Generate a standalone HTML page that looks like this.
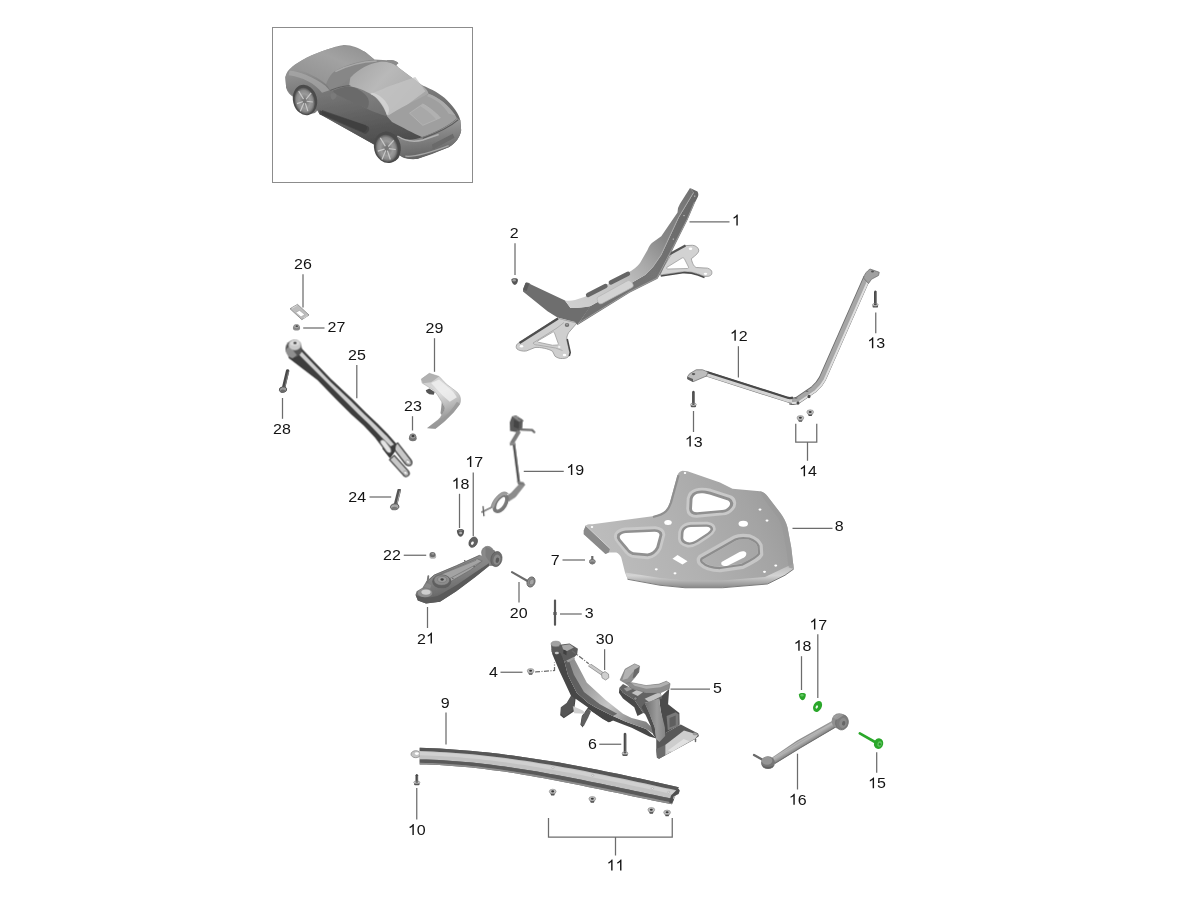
<!DOCTYPE html>
<html><head><meta charset="utf-8">
<style>
html,body{margin:0;padding:0;background:#fff;}
body{width:1200px;height:900px;overflow:hidden;font-family:"Liberation Sans",sans-serif;}
svg{display:block}
.lb2{font-family:"Liberation Sans",sans-serif;font-size:16px;fill:#111;text-anchor:start}
.lbl{font-family:"Liberation Sans",sans-serif;font-size:16px;fill:#111;text-anchor:middle}
.ld{stroke:#6c6c6c;stroke-width:1.25;fill:none}
</style></head>
<body>
<svg width="1200" height="900" viewBox="0 0 1200 900">
<defs>
<filter id="b1" x="-5%" y="-5%" width="110%" height="110%"><feGaussianBlur stdDeviation="0.45"/></filter>
<filter id="b2" x="-5%" y="-5%" width="110%" height="110%"><feGaussianBlur stdDeviation="0.8"/></filter>
<filter id="bcar" x="-5%" y="-5%" width="110%" height="110%"><feGaussianBlur stdDeviation="3.2"/></filter>
<filter id="b4" x="-5%" y="-5%" width="110%" height="110%"><feGaussianBlur stdDeviation="1.8"/></filter>
<filter id="b8" x="-5%" y="-5%" width="110%" height="110%"><feGaussianBlur stdDeviation="3.4"/></filter>
<filter id="b11" x="-5%" y="-5%" width="110%" height="110%"><feGaussianBlur stdDeviation="4.5"/></filter>
<filter id="b7" x="-5%" y="-5%" width="110%" height="110%"><feGaussianBlur stdDeviation="3"/></filter>
<filter id="b6" x="-5%" y="-5%" width="110%" height="110%"><feGaussianBlur stdDeviation="2.6"/></filter>
<filter id="b4s" x="-5%" y="-5%" width="110%" height="110%"><feGaussianBlur stdDeviation="2.4"/></filter>
</defs>
<rect width="1200" height="900" fill="#fff"/>
<!-- CARBOX -->
<rect x="272.5" y="27.5" width="200" height="155" fill="#fff" stroke="#8c8c8c" stroke-width="1"/>
<!-- CAR -->
<g id="car" transform="translate(272,27) scale(0.16667)" filter="url(#bcar)">
<defs>
<linearGradient id="cg1" x1="0" y1="0" x2="0.3" y2="1"><stop offset="0" stop-color="#9a9a9a"/><stop offset="0.55" stop-color="#7c7c7c"/><stop offset="1" stop-color="#5c5c5c"/></linearGradient>
<linearGradient id="cgroof" x1="0" y1="0" x2="1" y2="0.6"><stop offset="0" stop-color="#a3a3a3"/><stop offset="0.45" stop-color="#b9b9b9"/><stop offset="1" stop-color="#a6a6a6"/></linearGradient>
<linearGradient id="cghood" x1="0" y1="1" x2="1" y2="0"><stop offset="0" stop-color="#8e8e8e"/><stop offset="0.6" stop-color="#a2a2a2"/><stop offset="1" stop-color="#8f8f8f"/></linearGradient>
<linearGradient id="cgside" x1="0" y1="0" x2="0.25" y2="1"><stop offset="0" stop-color="#9a9a9a"/><stop offset="0.3" stop-color="#787878"/><stop offset="0.7" stop-color="#5c5c5c"/><stop offset="1" stop-color="#484848"/></linearGradient>
<linearGradient id="cgrear" x1="0" y1="0" x2="0.2" y2="1"><stop offset="0" stop-color="#a8a8a8"/><stop offset="0.4" stop-color="#8b8b8b"/><stop offset="1" stop-color="#646464"/></linearGradient>
<radialGradient id="cgwh" cx="0.5" cy="0.5" r="0.5"><stop offset="0" stop-color="#6d6d6d"/><stop offset="0.55" stop-color="#9a9a9a"/><stop offset="0.8" stop-color="#8a8a8a"/><stop offset="1" stop-color="#5a5a5a"/></radialGradient>
</defs>
<!-- body silhouette -->
<path fill="url(#cg1)" d="M430 108C470 105 520 125 560 150L615 195L690 200C720 195 750 205 758 218L745 228L760 245L900 350C960 375 1010 400 1050 440C1090 480 1120 520 1130 560L1135 620C1130 660 1100 700 1060 722L960 762L870 792C830 795 800 790 780 780L765 770C760 800 730 812 700 805C670 800 640 770 625 735L612 705L285 522L272 500C265 520 235 525 210 518C180 510 150 470 135 425C110 410 90 390 85 365L80 300C85 275 100 255 120 240C160 205 250 160 330 135C360 125 400 112 430 108Z"/>
<!-- side body -->
<path fill="url(#cgside)" d="M120 240C160 250 250 290 325 345L365 385L570 490C600 505 650 525 690 535C740 560 800 600 900 662C850 685 790 690 745 660L760 770L700 805L612 705L285 522L272 500L135 425L85 365L80 300Z"/>
<!-- hood -->
<path fill="url(#cghood)" d="M120 240C160 205 250 160 330 135C400 112 470 105 560 150L612 195C540 200 450 225 385 260C360 275 340 300 325 343C300 320 240 285 195 270C160 260 135 255 120 240Z"/>
<!-- front fender highlight -->
<path fill="#a9a9a9" opacity="0.7" d="M105 262C160 262 250 300 320 352L345 380L300 395C260 340 180 300 100 290Z"/>
<!-- windshield -->
<path fill="#878787" d="M385 262C450 228 540 203 628 200L645 212C580 225 520 255 470 305C440 335 400 360 348 378L328 345C340 305 360 278 385 262Z"/>
<path fill="none" stroke="#a9a9a9" stroke-width="9" d="M380 268C450 232 540 208 628 204"/>
<!-- roof -->
<path fill="url(#cgroof)" d="M470 305C520 250 585 218 645 210C685 205 725 215 752 238L900 350C922 368 936 385 940 400C900 430 820 470 740 520C720 532 700 537 690 530C682 480 640 420 590 400C560 385 520 362 462 355Z"/>
<path fill="#c4c4c4" opacity="0.75" d="M590 400C610 395 650 380 690 360L860 300L920 385L740 520C720 532 700 537 690 530C682 480 640 420 590 400Z"/>
<path fill="#d6d6d6" opacity="0.8" d="M590 402C625 415 668 470 690 530C700 520 705 500 700 480C685 440 640 400 600 395Z"/>
<!-- side window -->
<path fill="#6b6b6b" d="M362 382C400 366 440 357 470 357C520 367 560 397 578 432C585 452 580 476 570 490L380 402Z"/>
<path fill="none" stroke="#5a5a5a" stroke-width="5" d="M350 380C400 360 440 352 470 352"/>
<!-- mirror -->
<path fill="#7a7a7a" d="M352 400C365 392 385 395 388 410C385 428 370 440 360 435C352 425 350 410 352 400Z"/>
<path fill="#8c8c8c" d="M690 200C720 195 750 205 758 218L745 228C730 215 705 210 690 210Z"/>
<!-- rear deck -->
<path fill="#9f9f9f" d="M690 535C760 490 860 440 940 400C1000 420 1060 470 1100 530L1110 547C1050 600 960 640 900 660C850 640 780 600 720 570Z"/>
<path fill="#a8a8a8" stroke="#b9b9b9" stroke-width="4" d="M825 517L905 462C940 480 990 520 1010 545L905 590Z"/>
<path fill="#b3b3b3" opacity="0.8" d="M905 462C940 480 990 520 1010 545L985 555C960 525 925 495 890 475Z"/>
<!-- rear fender hump -->
<path fill="#b0b0b0" opacity="0.7" d="M940 400C1000 420 1060 470 1100 530L1060 520C1030 470 985 435 930 415Z"/>
<!-- rear bumper -->
<path fill="url(#cgrear)" d="M900 662C960 640 1060 600 1112 548L1130 560L1135 620C1130 660 1100 700 1060 722L870 792C820 795 790 785 770 770C760 740 750 700 745 660C780 682 850 682 900 662Z"/>
<path fill="none" stroke="#5a5a5a" stroke-width="7" d="M905 668C965 646 1062 606 1118 556"/>
<path fill="none" stroke="#b2b2b2" stroke-width="9" d="M752 655C800 685 860 690 905 678L1000 645"/>
<path fill="#6a6a6a" d="M960 705L1085 640L1095 665L965 735Z"/>
<path fill="none" stroke="#a6a6a6" stroke-width="8" d="M800 775C860 782 960 750 1060 712"/>
<!-- sill -->
<path fill="#474747" d="M285 500L575 596C592 608 582 632 560 642L285 524Z"/>
<path fill="#3d3d3d" d="M300 498L560 588C576 600 570 626 550 632L300 522Z" opacity="0.7"/>
<!-- wheels -->
<ellipse cx="198" cy="438" rx="72" ry="92" fill="#4c4c4c" transform="rotate(-14 198 438)"/>
<ellipse cx="196" cy="444" rx="60" ry="80" fill="url(#cgwh)" transform="rotate(-14 196 444)"/>
<ellipse cx="692" cy="722" rx="80" ry="95" fill="#4c4c4c" transform="rotate(-14 692 722)"/>
<ellipse cx="688" cy="728" rx="66" ry="82" fill="url(#cgwh)" transform="rotate(-14 688 728)"/>
<g stroke="#c9c9c9" stroke-width="7" fill="none">
<path d="M196 444L160 385M196 444L235 395M196 444L150 460M196 444L215 505M196 444L170 505M196 444L245 450"/>
<path d="M688 728L650 665M688 728L730 680M688 728L635 745M688 728L710 795M688 728L660 795M688 728L742 735"/>
</g>
<ellipse cx="196" cy="444" rx="12" ry="15" fill="#777"/>
<ellipse cx="688" cy="728" rx="13" ry="16" fill="#777"/>
</g>
<!-- PARTS -->
<g id="p1" transform="translate(490,170) scale(0.25)" filter="url(#b4)">
<defs>
<linearGradient id="p1top" gradientUnits="userSpaceOnUse" x1="320" y1="540" x2="800" y2="80"><stop offset="0" stop-color="#d0d0d0"/><stop offset="0.3" stop-color="#c4c4c4"/><stop offset="0.5" stop-color="#a8a8a8"/><stop offset="0.68" stop-color="#878787"/><stop offset="1" stop-color="#727272"/></linearGradient>
<linearGradient id="p1rim" gradientUnits="userSpaceOnUse" x1="350" y1="620" x2="830" y2="90"><stop offset="0" stop-color="#6e6e6e"/><stop offset="0.5" stop-color="#747474"/><stop offset="1" stop-color="#666"/></linearGradient>
</defs>
<!-- right foot -->
<path fill="#d2d2d2" stroke="#8d8d8d" stroke-width="3" d="M690 395L730 330L780 302.5L810 301C825 303 832 310 835 320C836 330 825 340 805 355C810 375 815 385 825 390L870 392.5C882 397 888 402 887.5 410C888 418 884 422 875 425L860 426L830 415C810 408 790 406 770 407.5L680 420Z"/>
<path fill="#fff" stroke="#9a9a9a" stroke-width="3" d="M708 389L768 352C772 350 776 352 778 356L794 388C795 392 793 394 789 394L712 396C706 396 704 392 708 389Z"/>
<path fill="none" stroke="#4b4b4b" stroke-width="7" d="M683 424L770 411C795 410 815 414 832 420L858 430"/>
<path fill="none" stroke="#555" stroke-width="9" d="M716 338L782 302"/>
<ellipse cx="802" cy="315" rx="7" ry="5" fill="#fff"/><ellipse cx="862" cy="415" rx="7" ry="4.5" fill="#fff"/>
<!-- left foot -->
<path fill="#cfcfcf" stroke="#8d8d8d" stroke-width="3" d="M270 592L110 695C104 700 103 710 108 716C115 722 130 726 145 724L180 710C200 708 235 715 250 725L260 745C270 752 280 755 290 754C305 754 312 750 317 742L319 730L307 680C306 668 310 658 315 650L348 612L290 598Z"/>
<path fill="none" stroke="#4f4f4f" stroke-width="9" d="M272 594L118 692"/>
<path fill="none" stroke="#474747" stroke-width="6" d="M309 676L321 730L317 744"/>
<path fill="none" stroke="#a2a2a2" stroke-width="3" d="M172 692L268 632L296 610M172 692C176 698 180 700 190 700L262 712L290 722"/>
<path fill="#fff" stroke="#9a9a9a" stroke-width="3" d="M192 683L250 649C254 647 257 648 258 652L273 694C274 698 272 700 268 700L250 701L194 689C190 688 189 685 192 683Z"/>
<ellipse cx="126" cy="705" rx="7" ry="5" fill="#fff"/><ellipse cx="298" cy="740" rx="7" ry="5" fill="#fff"/><ellipse cx="277" cy="708" rx="5" ry="4" fill="#f4f4f4"/>
<!-- beam: right/lower rim face -->
<path fill="url(#p1rim)" d="M815 90L800 72L830 86C834 92 834 100 832 106L820 130L790 200L735 310L685 410L670 435L560 490L350 620L400 545L560 455L620 420L650 390L685 340L755 190Z"/>
<!-- beam: left dark face -->
<path fill="#6e6e6e" d="M132 478L142 452C150 448 158 452 162 457L300 522L322 552L402 545L350 620L340 608L270 590L230 565L132 486Z"/>
<path fill="#5a5a5a" d="M132 478L142 452C148 449 154 452 156 458L146 484Z"/>
<!-- beam: top face -->
<path fill="url(#p1top)" d="M300 522C315 524 328 523 340 520L380 507L550 412C575 398 590 385 600 372L630 320C636 305 642 296 650 290L685 265L750 170L752 152L760 135L800 72L815 90L755 190L685 340L650 390L620 420L560 455L400 545C370 552 345 553 322 552Z"/>
<path fill="none" stroke="#a8a8a8" stroke-width="3" d="M352 614L560 486L668 432L733 306L788 198L818 128"/>
<path fill="none" stroke="#b0b0b0" stroke-width="3" d="M813 92L754 190L684 340L650 390"/>
<!-- slots -->
<path fill="none" stroke="#666" stroke-width="17" stroke-linecap="round" d="M392 500L462 464M483 450L552 415"/>
<!-- pad -->
<path fill="#d3d3d3" stroke="#b5b5b5" stroke-width="3" d="M432 508L548 444C556 440 564 444 568 451L572 458C574 464 572 468 566 471L448 534C440 537 434 534 431 527L429 518C428 513 429 510 432 508Z"/>
<!-- small bolt on left foot -->
<ellipse cx="308" cy="620" rx="9" ry="8" fill="#707070"/><ellipse cx="308" cy="618" rx="5" ry="4" fill="#9a9a9a"/>
<!-- holes on arm -->
<circle cx="819" cy="104" r="2.5" fill="#ddd"/><circle cx="776" cy="182" r="2.5" fill="#ddd"/><circle cx="733" cy="276" r="2.5" fill="#ddd"/>
</g>
<g id="p8" transform="translate(560,450) scale(0.25)" filter="url(#b4)">
<defs>
<linearGradient id="p8g" gradientUnits="userSpaceOnUse" x1="150" y1="500" x2="900" y2="150"><stop offset="0" stop-color="#bebebe"/><stop offset="0.45" stop-color="#b1b1b1"/><stop offset="0.8" stop-color="#a4a4a4"/><stop offset="1" stop-color="#989898"/></linearGradient>
<linearGradient id="p8lip" x1="0" y1="0" x2="0" y2="1"><stop offset="0" stop-color="#b8b8b8"/><stop offset="0.5" stop-color="#d4d4d4"/><stop offset="1" stop-color="#8a8a8a"/></linearGradient>
</defs>
<!-- base plate -->
<path fill="url(#p8g)" d="M95 322L103 302C108 297 118 296 130 297L370 265C395 260 410 255 420 245C430 235 436 222 440 210L470 100C474 90 482 84 490 83L510 85L640 130L690 155L800 165C815 168 824 176 830 185L880 250C895 270 905 290 910 310L925 390L935 475L900 500L830 535L650 550L500 550L400 540L270 515L260 490L245 430C240 420 234 414 225 410L195 410L182 416L95 337Z"/>
<!-- bottom lip -->
<path fill="url(#p8lip)" d="M262 490L400 512L500 522L650 522L820 508L900 470L933 455L935 475L900 500L830 535L650 550L500 550L400 540L270 515Z"/>
<path fill="none" stroke="#7d7d7d" stroke-width="4" d="M270 517L400 541L500 551L650 551L830 536L900 501L935 476"/>
<!-- left fold -->
<path fill="#8a8a8a" d="M95 322L103 302L200 395L195 410L182 416L95 337Z"/>
<path fill="none" stroke="#d0d0d0" stroke-width="4" d="M104 303L200 394"/>
<!-- left edge shading of upper arm -->
<path fill="none" stroke="#8f8f8f" stroke-width="9" d="M372 268C398 262 414 255 424 245C434 235 440 222 444 210L474 101"/>
<!-- right edge darker band -->
<path fill="#9a9a9a" opacity="0.8" d="M800 165C815 168 824 176 830 185L880 250C895 270 905 290 910 310L925 390L935 475L915 470L905 395L890 315C885 295 875 275 862 258L815 195Z"/>
<!-- embossed rims (dark then light) -->
<g fill="none" stroke-linejoin="round" filter="url(#b4s)">
<path stroke="#c9c9c9" stroke-width="30" d="M530 178C545 165 565 162 600 170L680 196C692 203 692 220 684 228C675 240 660 246 650 246L545 256C528 256 520 248 520 235L522 195C524 186 526 182 530 178Z"/>
<path stroke="#909090" stroke-width="15" d="M534 180C548 168 566 166 600 174L676 199C688 206 688 220 680 227C672 238 660 243 650 243L546 252C530 252 524 246 524 235L526 196C528 188 530 184 534 180Z"/>
<path stroke="#c9c9c9" stroke-width="26" d="M492 316C500 306 510 302 522 301L588 300C602 302 610 308 610 316C606 326 596 334 590 338L548 366C535 374 520 378 508 376C494 372 486 365 485 355L486 330C488 323 490 319 492 316Z"/>
<path stroke="#909090" stroke-width="13" d="M495 318C502 309 511 306 523 305L587 304C600 305 606 310 606 317C602 325 594 332 588 336L547 363C535 371 521 374 510 372C497 369 490 362 489 354L490 331C491 324 493 321 495 318Z"/>
<path stroke="#c9c9c9" stroke-width="30" d="M232 340C240 330 250 326 262 325L380 320C396 322 405 328 406 338L392 390C384 408 366 420 350 422L292 416C280 412 272 405 266 396L236 358C230 350 230 345 232 340Z"/>
<path stroke="#909090" stroke-width="15" d="M236 341C243 333 252 330 263 329L379 324C394 325 402 330 402 339L389 389C381 405 365 416 350 418L293 413C282 409 275 403 269 394L239 358C234 351 234 346 236 341Z"/>
<path stroke="#c6c6c6" stroke-width="22" d="M562 430L700 352C712 346 730 344 758 348C780 356 795 370 800 382L802 418C796 430 780 440 730 465L640 478C610 478 580 470 562 452C556 445 556 436 562 430Z"/>
<path stroke="#8d8d8d" stroke-width="9" d="M568 434L702 358C714 352 730 350 756 354C776 361 790 373 794 384L796 415C790 426 776 435 728 459L640 472C612 472 584 465 568 449C563 443 563 438 568 434Z"/>
</g>
<!-- cutouts -->
<g fill="#fff">
<path d="M538 182C548 172 565 170 598 178L672 202C682 208 682 218 676 226C668 236 658 240 648 240L548 249C534 249 528 244 528 234L530 198C531 190 534 186 538 182Z"/>
<path d="M498 320C504 312 512 309 524 308L586 307C598 308 603 312 602 318C598 325 592 330 586 334L546 360C534 368 522 371 512 369C500 366 494 360 493 352L494 332C495 326 496 323 498 320Z"/>
<path d="M240 343C246 336 254 333 264 332L378 327C392 328 398 333 398 340L385 388C378 402 364 412 350 414L294 409C284 406 277 400 272 392L243 358C239 352 238 347 240 343Z"/>
<path d="M450 435L470 420L510 445L490 458Z"/>
<path d="M648 447L718 408C730 402 742 404 745 412C746 420 742 426 736 430L672 462C660 466 650 464 646 458C644 453 645 449 648 447Z"/>
<ellipse cx="432" cy="290" rx="15" ry="10"/><ellipse cx="733" cy="295" rx="19" ry="12"/>
<ellipse cx="500" cy="92" rx="5" ry="4"/><ellipse cx="128" cy="308" rx="5" ry="4"/><ellipse cx="800" cy="238" rx="6" ry="4.5"/><ellipse cx="828" cy="282" rx="6" ry="4.5"/>
<ellipse cx="385" cy="477" rx="6" ry="4.5"/><ellipse cx="460" cy="493" rx="6" ry="4.5"/><ellipse cx="818" cy="487" rx="6" ry="4.5"/><ellipse cx="863" cy="462" rx="6" ry="4.5"/>
</g>
</g>
<g id="p12" transform="translate(650,255) scale(0.25)" filter="url(#b4)">
<!-- upper-right leg -->
<path fill="none" stroke="#6c6c6c" stroke-width="30" stroke-linejoin="round" d="M560 583C572 586 582 585 592 580L655 537C672 522 682 510 690 494L868 90"/>
<path fill="none" stroke="#a6a6a6" stroke-width="23" stroke-linejoin="round" d="M560 583C572 586 582 585 592 580L655 537C672 522 682 510 690 494L868 90"/>
<path fill="none" stroke="#dedede" stroke-width="8" stroke-linejoin="round" d="M568 592C578 593 588 592 598 587L662 544C679 529 690 516 698 500L876 96"/>
<!-- top tab -->
<path fill="#a0a0a0" stroke="#6e6e6e" stroke-width="3" d="M854 92C858 76 866 66 880 56L917 69L914 82L886 97L874 114Z"/>
<ellipse cx="890" cy="66" rx="6" ry="4" fill="#555"/>
<!-- lower-left leg -->
<path fill="none" stroke="#6e6e6e" stroke-width="22" stroke-linejoin="round" d="M222 474L548 578C556 581 562 582 568 582"/>
<path fill="none" stroke="#d4d4d4" stroke-width="15" stroke-linejoin="round" d="M222 476L548 580C556 583 562 584 568 584"/>
<path fill="none" stroke="#4a4a4a" stroke-width="9" stroke-linejoin="round" d="M224 467L548 570C556 573 564 573 572 570"/>
<!-- left end block -->
<path fill="#bdbdbd" stroke="#6e6e6e" stroke-width="3" d="M150 487L158 475L185 459L210 459L232 468L226 484L172 507L150 496Z"/>
<path fill="#5c5c5c" d="M150 487L172 496L172 507L150 496Z"/>
<ellipse cx="174" cy="476" rx="7" ry="4.5" fill="#5a5a5a"/>
<!-- holes near bend -->
<ellipse cx="584" cy="572" rx="6" ry="3" fill="#6a6a6a"/><ellipse cx="628" cy="545" rx="6" ry="3" fill="#6a6a6a"/>
<!-- studs -->
<ellipse cx="592" cy="592" rx="6" ry="7" fill="#484848"/><ellipse cx="636" cy="566" rx="6" ry="7" fill="#484848"/>
</g>
<!-- bolts 13 -->
<g id="b13"><g filter="url(#b1)"><path fill="#484848" d="M874.0 304.6V291.59999999999997Q875.3 289.4 876.5999999999999 291.59999999999997V304.6Z"/><path stroke="#7c7c7c" stroke-width="0.7" d="M876.0999999999999 292.4V303.6"/><rect x="872.5999999999999" y="304.6" width="5.4" height="3" rx="1.2" fill="#555"/><ellipse cx="875.3" cy="304.8" rx="3.0" ry="1.4" fill="#cfcfcf" stroke="#777" stroke-width="0.5"/><ellipse cx="875.3" cy="304.40000000000003" rx="1.5" ry="0.8" fill="#4a4a4a"/></g><g filter="url(#b1)"><path fill="#484848" d="M692.1 404.3V391.8Q693.4 389.6 694.6999999999999 391.8V404.3Z"/><path stroke="#7c7c7c" stroke-width="0.7" d="M694.1999999999999 392.6V403.3"/><rect x="690.6999999999999" y="404.3" width="5.4" height="3" rx="1.2" fill="#555"/><ellipse cx="693.4" cy="404.5" rx="3.0" ry="1.4" fill="#cfcfcf" stroke="#777" stroke-width="0.5"/><ellipse cx="693.4" cy="404.1" rx="1.5" ry="0.8" fill="#4a4a4a"/></g></g>
<!-- nuts 14 -->
<g id="n14" filter="url(#b1)"><path fill="#4e4e4e" d="M797.50 418.40L803.30 418.40L801.90 421.80L798.90 421.80Z"/><ellipse cx="800.4" cy="417.90" rx="3.4" ry="2.3" fill="#c0c0c0" stroke="#8a8a8a" stroke-width="0.6"/><ellipse cx="800.4" cy="417.80" rx="1.5" ry="1.05" fill="#383838"/><path fill="#4e4e4e" d="M807.30 412.60L813.10 412.60L811.70 416.00L808.70 416.00Z"/><ellipse cx="810.2" cy="412.10" rx="3.4" ry="2.3" fill="#c0c0c0" stroke="#8a8a8a" stroke-width="0.6"/><ellipse cx="810.2" cy="412.00" rx="1.5" ry="1.05" fill="#383838"/></g>
<g id="p25" transform="translate(270,290) scale(0.125)" filter="url(#b8)">
<!-- fork tabs -->
<path fill="#3a3a3a" d="M940 1180L1010 1235L990 1300L960 1345L900 1270Z"/>
<path fill="#c8c8c8" stroke="#3f3f3f" stroke-width="10" stroke-linejoin="round" d="M1021 1223L1126 1358C1148 1386 1127 1412 1100 1403C1091 1400 1086 1396 1084 1392L979 1257Z"/>
<path fill="#c8c8c8" stroke="#3f3f3f" stroke-width="10" stroke-linejoin="round" d="M994 1323L1104 1445C1127 1471 1106 1497 1080 1491C1072 1488 1068 1483 1066 1479L956 1357Z"/>
<ellipse cx="1104" cy="1376" rx="18" ry="12" fill="#fff" stroke="#555" stroke-width="4" transform="rotate(20 1104 1376)"/>
<ellipse cx="1084" cy="1463" rx="18" ry="12" fill="#fff" stroke="#555" stroke-width="4" transform="rotate(20 1084 1463)"/>
<!-- arm dark body -->
<path fill="#3c3c3c" d="M140 500L250 465L495 720L665 880L770 985L860 1070L940 1150L1010 1230L1000 1290L960 1340L900 1260L840 1180L750 1085L650 995L535 880L380 720L150 545Z"/>
<!-- light top strip -->
<path fill="#cfcfcf" d="M215 500L250 468L495 722L665 882L770 987L860 1072L940 1152L1005 1228L965 1250L885 1170L800 1080L705 990L595 880L435 720Z"/>
<path fill="none" stroke="#3a3a3a" stroke-width="17" d="M244 472L489 726L659 886L764 991L854 1076L934 1156L1002 1234"/>
<!-- window -->
<path fill="#e4e4e4" stroke="#6a6a6a" stroke-width="5" d="M885 1205C895 1195 910 1198 925 1212L962 1262C972 1280 972 1295 962 1302C950 1306 938 1298 928 1285L892 1235C882 1220 880 1212 885 1205Z"/>
<!-- top bushing -->
<ellipse cx="190" cy="470" rx="66" ry="70" fill="#555"/>
<path fill="#8f8f8f" d="M130 470C125 510 150 545 185 545L215 520L160 450Z"/>
<ellipse cx="198" cy="440" rx="50" ry="42" fill="#c9c9c9" stroke="#9a9a9a" stroke-width="5"/>
<ellipse cx="198" cy="424" rx="38" ry="22" fill="#dadada"/>
<ellipse cx="200" cy="424" rx="13" ry="9" fill="#3c3c3c"/>
</g>
<!-- clip 26 -->
<g id="p26" transform="translate(270,290) scale(0.125)" filter="url(#b8)">
<path fill="#bdbdbd" stroke="#8c8c8c" stroke-width="7" stroke-linejoin="round" d="M160 150L220 115L312 200L255 237Z"/>
<path fill="#fff" stroke="#9a9a9a" stroke-width="4" d="M206 180L236 163L278 196L248 215Z"/>
<path fill="none" stroke="#dcdcdc" stroke-width="7" d="M175 147L215 124M268 226L300 204"/>
</g>
<!-- nut 27 -->
<g filter="url(#b1)"><ellipse cx="296.5" cy="328" rx="3.6" ry="2.6" fill="#8c8c8c"/><ellipse cx="296.5" cy="326.6" rx="2.8" ry="2.2" fill="#a5a5a5" stroke="#777" stroke-width="0.6"/><ellipse cx="296.8" cy="326.2" rx="1.2" ry="0.9" fill="#4a4a4a"/></g>
<!-- bolt 28 -->
<g filter="url(#b1)"><path stroke="#4a4a4a" stroke-width="3.4" stroke-linecap="round" d="M287.6 371L283.8 387"/><path stroke="#858585" stroke-width="0.9" d="M288.6 371.5L284.9 387"/><ellipse cx="283" cy="389.6" rx="3.7" ry="2.8" fill="#9c9c9c" stroke="#4f4f4f" stroke-width="0.9" transform="rotate(-12 283 389.6)"/><ellipse cx="282.8" cy="391" rx="2.6" ry="1.6" fill="#6a6a6a"/></g>
<!-- bolt 24 -->
<g filter="url(#b1)"><path stroke="#555" stroke-width="3.6" stroke-linecap="round" d="M399.2 490.3L395.6 504.5"/><path stroke="#a5a5a5" stroke-width="1" d="M400.2 490.6L396.8 504.5"/><ellipse cx="394.7" cy="506.8" rx="4.2" ry="3" fill="#a8a8a8" stroke="#555" stroke-width="0.9" transform="rotate(-12 394.7 506.8)"/><ellipse cx="394.4" cy="508.4" rx="3" ry="1.7" fill="#7a7a7a"/></g>
<!-- nut 23 -->
<g filter="url(#b1)"><ellipse cx="412.8" cy="438.2" rx="3.9" ry="3" fill="#767676"/><ellipse cx="412.8" cy="436.4" rx="3.1" ry="2.6" fill="#9c9c9c" stroke="#666" stroke-width="0.7"/><ellipse cx="413" cy="436" rx="1.5" ry="1.2" fill="#3f3f3f"/></g>
<!-- bracket 29 -->
<g id="p29" transform="translate(400,360) scale(0.08889)" filter="url(#b11)">
<defs><linearGradient id="g29" x1="0" y1="0" x2="0.3" y2="1"><stop offset="0" stop-color="#c6c6c6"/><stop offset="0.45" stop-color="#dedede"/><stop offset="0.75" stop-color="#b5b5b5"/><stop offset="1" stop-color="#8a8a8a"/></linearGradient></defs>
<path fill="#555" d="M290 340L330 320L390 360L380 390L330 385L300 365Z"/>
<path fill="url(#g29)" stroke="#a0a0a0" stroke-width="6" d="M240 215L330 150L440 185C470 215 495 245 520 270L640 360C665 385 680 410 680 440C682 465 678 485 670 500L600 590L500 690L400 770L310 765L420 680C445 660 460 640 470 620C490 590 505 560 500 530C495 505 485 490 470 470L420 390L380 340L250 260Z"/>
<path fill="#9a9a9a" opacity="0.85" d="M640 470C660 480 672 490 670 500L600 590L500 690L400 770L310 765L420 680C460 690 560 600 640 470Z"/>
<path fill="#f0f0f0" opacity="0.8" d="M350 260L440 220L520 290L600 360L640 420L560 470L480 400Z"/>
<path fill="#a5a5a5" opacity="0.7" d="M240 215L330 150L440 185L350 250L260 262Z"/>
<path fill="#7b7b7b" d="M470 620C490 590 505 560 500 530L470 470C465 520 462 560 455 600Z" opacity="0.8"/>
</g>
<g id="p19" transform="translate(470,405) scale(0.13333)" filter="url(#b8)">
<!-- sensor body -->
<path fill="#5a5a5a" d="M298 130L315 85L345 78L395 110L392 175L360 205L300 195Z"/>
<path fill="#8a8a8a" d="M318 88L345 80L392 110L370 125Z"/>
<path fill="#444" d="M330 110L368 128L364 178L328 165Z"/>
<path fill="none" stroke="#707070" stroke-width="17" stroke-linecap="round" d="M380 184L466 188L482 204"/>
<path fill="none" stroke="#6a6a6a" stroke-width="10" d="M360 100L400 120"/>
<!-- link -->
<path fill="none" stroke="#7c7c7c" stroke-width="30" stroke-linecap="butt" d="M368 196L312 290"/>
<path fill="#8a8a8a" d="M296 284L338 280L344 300L300 304Z"/>
<!-- rod -->
<path fill="none" stroke="#505050" stroke-width="19" d="M330 298L366 578"/>
<path fill="none" stroke="#8a8a8a" stroke-width="4" d="M336 298L372 578"/>
<path fill="#7b7b7b" d="M352 572L402 578L412 600L360 596Z"/>
<!-- lower bracket arm -->
<path fill="#8c8c8c" stroke="#6a6a6a" stroke-width="4" d="M372 592L412 598L340 690L290 722L268 690L310 660Z"/>
<!-- clamp ring -->
<ellipse cx="230" cy="737" rx="36" ry="68" transform="rotate(32 230 737)" fill="none" stroke="#787878" stroke-width="27"/>
<path fill="none" stroke="#a0a0a0" stroke-width="24" d="M168 770C172 735 200 690 240 668C255 662 268 664 278 672"/>
<path fill="none" stroke="#6a6a6a" stroke-width="4" d="M155 778C160 735 195 682 240 656C262 648 282 656 292 672"/>
<!-- left tab and pin -->
<path fill="none" stroke="#8c8c8c" stroke-width="14" stroke-linecap="round" d="M160 768L90 802"/>
<path fill="none" stroke="#5f5f5f" stroke-width="10" stroke-linecap="round" d="M98 762L104 830"/>
</g>
<g id="p21" transform="translate(405,520) scale(0.116667)" filter="url(#b8)">
<defs><linearGradient id="g21" x1="0" y1="0" x2="0.4" y2="1"><stop offset="0" stop-color="#969696"/><stop offset="0.5" stop-color="#848484"/><stop offset="1" stop-color="#5c5c5c"/></linearGradient></defs>
<!-- bushing back cylinder -->
<ellipse cx="708" cy="278" rx="52" ry="52" fill="#8a8a8a" stroke="#6a6a6a" stroke-width="5"/>
<path fill="#7c7c7c" d="M690 230L770 262L800 395L712 392L690 320Z"/>
<!-- arm body -->
<path fill="url(#g21)" d="M90 640L100 610L150 580L180 530L250 470L440 390L640 300L690 310L740 380L720 395L600 490L440 610L300 700L180 715L110 690Z"/>
<path fill="#5a5a5a" d="M90 640C140 670 240 670 300 640L440 560L600 450L720 370L720 395L600 490L440 610L300 700L180 715L110 690Z"/>
<path fill="none" stroke="#5c5c5c" stroke-width="6" d="M182 532L250 472L440 392L640 302"/>
<!-- inner panel -->
<path fill="#a3a3a3" stroke="#6a6a6a" stroke-width="6" d="M262 482L618 332L662 352L560 430L400 522L300 545Z"/>
<path fill="none" stroke="#6a6a6a" stroke-width="5" d="M300 470L610 345M330 530L650 360"/>
<!-- bushing front -->
<ellipse cx="784" cy="335" rx="47" ry="66" fill="#6e6e6e" stroke="#565656" stroke-width="5" transform="rotate(12 784 335)"/>
<ellipse cx="788" cy="340" rx="30" ry="44" fill="#8a8a8a" transform="rotate(12 788 340)"/>
<ellipse cx="792" cy="345" rx="15" ry="24" fill="#5a5a5a" transform="rotate(12 792 345)"/>
<!-- ball joint mount -->
<ellipse cx="315" cy="528" rx="82" ry="58" fill="#5f5f5f"/>
<ellipse cx="315" cy="515" rx="68" ry="45" fill="#8c8c8c" stroke="#606060" stroke-width="5"/>
<ellipse cx="318" cy="510" rx="38" ry="25" fill="#9c9c9c" stroke="#6c6c6c" stroke-width="4"/>
<ellipse cx="318" cy="510" rx="15" ry="10" fill="#404040"/>
<!-- left knob -->
<ellipse cx="172" cy="625" rx="62" ry="38" fill="#8f8f8f"/>
<ellipse cx="180" cy="618" rx="40" ry="22" fill="#cdcdcd"/>
<path fill="none" stroke="#777" stroke-width="16" stroke-linecap="round" d="M200 482L192 540"/>
<path fill="#8a8a8a" d="M160 575L190 540L225 560L215 590Z"/>
<circle cx="512" cy="350" r="7" fill="#666"/><circle cx="592" cy="398" r="6" fill="#5a5a5a"/><circle cx="410" cy="500" r="6" fill="#5a5a5a"/>
</g>
<!-- nut 18 (left) -->
<g filter="url(#b1)"><path fill="#565656" d="M456.9 530.8C457.6 528.6 463.6 528.4 464.1 530.8C464.2 533.8 462.5 536.6 460.6 536.8C458.5 536.7 456.9 533.6 456.9 530.8Z"/><ellipse cx="460.6" cy="533" rx="1.5" ry="1.2" fill="#b0b0b0"/><ellipse cx="460.4" cy="530.4" rx="2.2" ry="1" fill="#7a7a7a"/></g>
<!-- washer 17 (left) -->
<g filter="url(#b1)"><ellipse cx="473.2" cy="542.2" rx="3.9" ry="5.4" fill="#626262" stroke="#4c4c4c" stroke-width="0.7" transform="rotate(28 473.2 542.2)"/><ellipse cx="472.4" cy="543.2" rx="1.3" ry="1.8" fill="#fafafa" transform="rotate(28 472.4 543.2)"/></g>
<!-- nut 22 -->
<g filter="url(#b1)"><ellipse cx="432.8" cy="556.4" rx="3.4" ry="2.4" fill="#b5b5b5"/><ellipse cx="432.5" cy="554.6" rx="3" ry="2.6" fill="#6c6c6c"/><ellipse cx="432.8" cy="553.8" rx="1.5" ry="1" fill="#9a9a9a"/></g>
<!-- bolt 20 -->
<g filter="url(#b1)"><path stroke="#6a6a6a" stroke-width="2.1" stroke-linecap="round" d="M512 572.2L527.5 581"/><ellipse cx="531" cy="582" rx="3.9" ry="5.2" fill="#8a8a8a" stroke="#5f5f5f" stroke-width="0.8" transform="rotate(20 531 582)"/><ellipse cx="531.8" cy="582" rx="2.2" ry="3" fill="#a5a5a5" stroke="#666" stroke-width="0.5" transform="rotate(20 531.8 582)"/></g>
<!-- screw 7 -->
<g filter="url(#b1)"><path stroke="#6a6a6a" stroke-width="2.2" stroke-linecap="round" d="M592.3 556.5V560"/><ellipse cx="592.3" cy="561.6" rx="3" ry="2.2" fill="#9a9a9a" stroke="#606060" stroke-width="0.7"/><ellipse cx="592.3" cy="563" rx="2.3" ry="1.4" fill="#777"/></g>
<!-- stud 3 -->
<g><rect x="553.9" y="599.4" width="2.2" height="26.3" rx="1" fill="#575757"/><rect x="553.4" y="612" width="3.2" height="3" fill="#575757"/></g>
<g id="p5" transform="translate(545,635) scale(0.14444)" filter="url(#b7)">
<defs>
<linearGradient id="g5band" gradientUnits="userSpaceOnUse" x1="150" y1="180" x2="740" y2="660"><stop offset="0" stop-color="#8d8d8d"/><stop offset="0.3" stop-color="#a0a0a0"/><stop offset="0.55" stop-color="#c6c6c6"/><stop offset="0.75" stop-color="#9a9a9a"/><stop offset="1" stop-color="#7a7a7a"/></linearGradient>
<linearGradient id="g5col" x1="0" y1="0" x2="1" y2="0"><stop offset="0" stop-color="#6e6e6e"/><stop offset="0.6" stop-color="#9c9c9c"/><stop offset="1" stop-color="#858585"/></linearGradient>
</defs>
<!-- right: dark back -->
<path fill="#4c4c4c" d="M790 440L860 372L852 480L930 540L932 622L830 682L800 520Z"/>
<path fill="#7a7a7a" d="M842 560L905 535L925 548L925 632L850 660Z"/>
<path fill="#5e5e5e" d="M862 575L905 558L905 625L862 640Z"/>
<!-- foot plate -->
<path fill="#585858" d="M770 720L830 680L940 620L1060 682L1066 700L1040 720L790 856L775 850L770 790Z"/>
<path fill="#cdcdcd" d="M832 762L962 662L1060 690L1040 718L832 832Z"/>
<path fill="#e6e6e6" opacity="0.8" d="M850 800L960 720L1000 735L880 808Z"/>
<path fill="#6c6c6c" d="M770 790L832 762L832 832L790 856L775 850Z"/>
<ellipse cx="1038" cy="684" rx="14" ry="9" fill="#a0a0a0" stroke="#777" stroke-width="3"/>
<path stroke="#666" stroke-width="10" stroke-linecap="round" d="M1042 722V738"/>
<!-- left dark body -->
<path fill="#474747" d="M48 100L135 185L160 280L220 400L300 470L350 500L470 560L560 600L700 650L772 716L722 702L600 642L470 592L442 604L400 582L300 512L262 640L245 622L255 560L298 502L212 442L200 530L130 577L105 556L110 500L150 470L180 420L100 250L50 132Z"/>
<path fill="#d0d0d0" d="M192 492L262 522L282 546L202 542Z"/>
<path fill="#707070" d="M108 502L150 472L182 422L205 440L196 520L132 570L112 548Z" opacity="0.35"/>
<path fill="#5e5e5e" d="M258 560L298 508L318 530L300 570L268 632L248 620Z"/><path fill="#444" d="M298 508L400 578L442 604L470 592L440 560L330 500Z"/>
<!-- band top face -->
<path fill="url(#g5band)" d="M135 185L200 160L290 330L420 450L540 545L600 575L700 600L750 650L762 692L700 650L560 600L470 560L350 500L300 470L220 400L160 280Z"/>
<path fill="#4a4a4a" d="M45 100L108 90L135 185L100 200Z"/>
<path fill="#4c4c4c" opacity="0.75" d="M135 185L160 280L220 400L300 470L350 500L470 560L500 545L380 480L270 395L200 275L165 175Z"/>
<!-- knob + square mount -->
<path fill="#5a5a5a" d="M42 70L108 70L108 118L80 135L45 118Z"/>
<ellipse cx="75" cy="62" rx="33" ry="19" fill="#a2a2a2" stroke="#7a7a7a" stroke-width="4"/>
<ellipse cx="82" cy="125" rx="14" ry="9" fill="#c6c6c6"/>
<path fill="#5c5c5c" d="M100 68L170 58L228 95L222 135L196 160L135 185L104 120Z"/>
<path fill="#a8a8a8" d="M116 72L170 64L200 86L150 112L126 100Z"/>
<path fill="#3f3f3f" d="M128 100L150 110L148 140L126 128Z"/>
<path fill="#a0a0a0" d="M150 176L200 150L208 162L158 190Z"/>
<!-- right: saddle -->
<path fill="#646464" d="M515 365L540 340L600 370L700 400L800 400L812 440L690 470L730 560L680 540L620 450L540 400Z"/>
<path fill="#4a4a4a" d="M515 365L540 400L620 450L680 540L640 560L618 500L540 440L512 400Z"/>
<path fill="#c2c2c2" d="M600 402L650 372L692 386L642 422Z"/><path fill="#c2c2c2" d="M690 442L790 396L812 420L722 466Z"/>
<path fill="#9a9a9a" d="M545 370L590 355L610 372L566 392Z"/>
<path fill="#909090" stroke="#6e6e6e" stroke-width="4" d="M520 312L555 236L620 200L655 215L650 256L620 296L590 330L560 336Z"/>
<path fill="#b2b2b2" d="M556 240L620 202L652 216L604 262L572 302L536 312Z"/>
<path fill="#6a6a6a" d="M618 240L652 222L648 258L622 292L606 300Z"/>
<path fill="#8c8c8c" stroke="#6e6e6e" stroke-width="4" d="M560 336L600 330L700 350L790 340L840 320L866 336L860 372L800 400L700 400L600 370Z"/>
<path fill="#b0b0b0" d="M600 332L700 352L790 342L840 322L862 336L800 362L700 372L620 352Z"/>
<!-- right column -->
<path fill="url(#g5col)" d="M690 470L790 440L800 520L830 640L832 700L792 740L770 720L760 640L730 560Z"/>
<path fill="#4f4f4f" d="M690 470L730 560L760 640L770 720L750 690L736 640L700 560L668 500Z"/>
<circle cx="626" cy="440" r="12" fill="#8a8a8a" stroke="#444" stroke-width="4"/>
</g>
<!-- bolt 30 -->
<g filter="url(#b1)"><path stroke="#8a8a8a" stroke-width="3.6" d="M589.2 664.8L603 674.2"/><path stroke="#c9c9c9" stroke-width="2.4" d="M589.2 664.8L603 674.2"/><path fill="#cfcfcf" stroke="#8a8a8a" stroke-width="0.8" d="M601.5 673.5L605 671.6L608.5 674L608.8 677.8L605.6 680L602 677.8Z"/></g>
<!-- nut 4 -->
<g filter="url(#b1)"><path fill="#4e4e4e" d="M527.70 671.40L533.50 671.40L532.10 674.80L529.10 674.80Z"/><ellipse cx="530.6" cy="670.90" rx="3.4" ry="2.3" fill="#c0c0c0" stroke="#8a8a8a" stroke-width="0.6"/><ellipse cx="530.6" cy="670.80" rx="1.5" ry="1.05" fill="#383838"/></g>
<!-- bolt 6 -->
<g filter="url(#b1)"><path fill="#484848" d="M623.7 753V733.8000000000001Q625 731.6 626.3 733.8000000000001V753Z"/><path stroke="#7c7c7c" stroke-width="0.7" d="M625.8 734.6V752"/><rect x="622.3" y="753" width="5.4" height="3" rx="1.2" fill="#555"/><ellipse cx="625" cy="753.2" rx="3.0" ry="1.4" fill="#cfcfcf" stroke="#777" stroke-width="0.5"/><ellipse cx="625" cy="752.8" rx="1.5" ry="0.8" fill="#4a4a4a"/></g>
<!-- nut 2 -->
<g filter="url(#b1)"><path fill="#565656" d="M511.4 279.6C512 278 517.4 277.8 518 279.6C518 282.4 516.6 284.8 515 285C513.2 284.9 511.4 282.2 511.4 279.6Z"/><ellipse cx="514.2" cy="280.2" rx="1.8" ry="1.3" fill="#9c9c9c"/></g>
<g id="p9" filter="url(#b1)">
<ellipse cx="415.8" cy="754.2" rx="4.8" ry="3.5" fill="#c4c4c4" stroke="#8a8a8a" stroke-width="0.8"/><ellipse cx="416.8" cy="753.6" rx="2" ry="1.4" fill="#fff"/>
<path fill="#666" d="M419.7 747.8L426.3 748.0L433.0 748.3L439.6 748.6L446.3 749.0L452.9 749.4L459.5 749.9L466.2 750.4L472.8 751.0L479.5 751.7L486.1 752.3L492.8 753.1L499.4 753.8L506.0 754.7L512.7 755.5L519.3 756.4L526.0 757.4L532.6 758.4L539.2 759.4L545.9 760.4L552.5 761.5L559.2 762.6L565.8 763.8L572.4 765.0L579.1 766.2L585.7 767.5L592.4 768.7L599.0 770.0L605.6 771.4L612.3 772.7L618.9 774.1L625.6 775.5L632.2 776.9L638.9 778.3L645.5 779.8L652.1 781.2L658.8 782.7L665.4 784.2L672.1 785.7L678.7 787.2L672.0 804.3L665.5 803.0L659.1 801.7L652.6 800.4L646.1 799.0L639.7 797.7L633.2 796.4L626.7 795.0L620.2 793.6L613.8 792.3L607.3 790.9L600.8 789.6L594.4 788.2L587.9 786.9L581.4 785.6L575.0 784.3L568.5 783.0L562.0 781.7L555.6 780.4L549.1 779.2L542.6 778.0L536.1 776.9L529.7 775.7L523.2 774.7L516.7 773.6L510.3 772.6L503.8 771.6L497.3 770.7L490.9 769.9L484.4 769.0L477.9 768.3L471.5 767.6L465.0 766.9L458.5 766.4L452.0 765.9L445.6 765.4L439.1 765.1L432.6 764.8L426.2 764.6L419.7 764.4Z"/>
<path fill="#575757" d="M419.7 747.8L426.3 748.0L433.0 748.3L439.6 748.6L446.3 749.0L452.9 749.4L459.5 749.9L466.2 750.4L472.8 751.0L479.5 751.7L486.1 752.3L492.8 753.1L499.4 753.8L506.0 754.7L512.7 755.5L519.3 756.4L526.0 757.4L532.6 758.4L539.2 759.4L545.9 760.4L552.5 761.5L559.2 762.6L565.8 763.8L572.4 765.0L579.1 766.2L585.7 767.5L592.4 768.7L599.0 770.0L605.6 771.4L612.3 772.7L618.9 774.1L625.6 775.5L632.2 776.9L638.9 778.3L645.5 779.8L652.1 781.2L658.8 782.7L665.4 784.2L672.1 785.7L678.7 787.2L677.4 790.6L670.8 789.1L664.1 787.7L657.5 786.2L650.9 784.8L644.3 783.3L637.7 781.9L631.1 780.5L624.5 779.1L617.9 777.7L611.3 776.4L604.7 775.0L598.1 773.7L591.5 772.4L584.9 771.1L578.3 769.8L571.7 768.6L565.0 767.4L558.4 766.2L551.8 765.1L545.2 764.0L538.6 762.9L532.0 761.8L525.4 760.8L518.8 759.9L512.2 758.9L505.6 758.1L499.0 757.2L492.4 756.4L485.8 755.7L479.2 755.0L472.6 754.3L465.9 753.7L459.3 753.2L452.7 752.7L446.1 752.3L439.5 751.9L432.9 751.6L426.3 751.3L419.7 751.1Z"/>
<path fill="#c2c2c2" d="M419.7 751.1L426.3 751.3L432.9 751.6L439.5 751.9L446.1 752.3L452.7 752.7L459.3 753.2L465.9 753.7L472.6 754.3L479.2 755.0L485.8 755.7L492.4 756.4L499.0 757.2L505.6 758.1L512.2 758.9L518.8 759.9L525.4 760.8L532.0 761.8L538.6 762.9L545.2 764.0L551.8 765.1L558.4 766.2L565.0 767.4L571.7 768.6L578.3 769.8L584.9 771.1L591.5 772.4L598.1 773.7L604.7 775.0L611.3 776.4L617.9 777.7L624.5 779.1L631.1 780.5L637.7 781.9L644.3 783.3L650.9 784.8L657.5 786.2L664.1 787.7L670.8 789.1L677.4 790.6L674.0 799.1L667.5 797.8L661.0 796.4L654.4 795.1L647.9 793.7L641.4 792.3L634.9 790.9L628.4 789.6L621.8 788.2L615.3 786.8L608.8 785.5L602.3 784.1L595.8 782.8L589.2 781.4L582.7 780.1L576.2 778.8L569.7 777.6L563.2 776.3L556.6 775.1L550.1 773.9L543.6 772.8L537.1 771.6L530.6 770.5L524.0 769.5L517.5 768.5L511.0 767.5L504.5 766.5L497.9 765.7L491.4 764.8L484.9 764.0L478.4 763.3L471.9 762.6L465.3 762.0L458.8 761.4L452.3 760.9L445.8 760.5L439.3 760.1L432.7 759.8L426.2 759.6L419.7 759.4Z"/>
<path fill="#d0d0d0" d="M419.7 752.0L426.3 752.1L432.9 752.4L439.5 752.7L446.1 753.1L452.7 753.5L459.3 754.0L465.9 754.6L472.5 755.2L479.1 755.8L485.7 756.5L492.3 757.3L498.9 758.1L505.5 758.9L512.1 759.8L518.7 760.7L525.3 761.7L531.9 762.7L538.5 763.7L545.1 764.8L551.7 765.9L558.3 767.1L564.9 768.3L571.5 769.5L578.1 770.7L584.7 772.0L591.2 773.3L597.8 774.6L604.4 775.9L611.0 777.3L617.6 778.6L624.2 780.0L630.8 781.4L637.4 782.8L644.0 784.2L650.6 785.7L657.2 787.1L663.8 788.6L670.4 790.0L677.0 791.5L675.7 794.9L669.1 793.5L662.6 792.1L656.0 790.6L649.4 789.2L642.9 787.8L636.3 786.4L629.7 785.0L623.2 783.6L616.6 782.3L610.0 780.9L603.5 779.6L596.9 778.2L590.4 776.9L583.8 775.6L577.2 774.3L570.7 773.1L564.1 771.9L557.5 770.7L551.0 769.5L544.4 768.4L537.8 767.2L531.3 766.2L524.7 765.1L518.2 764.2L511.6 763.2L505.0 762.3L498.5 761.4L491.9 760.6L485.3 759.9L478.8 759.1L472.2 758.5L465.6 757.9L459.1 757.3L452.5 756.8L446.0 756.4L439.4 756.0L432.8 755.7L426.3 755.5L419.7 755.3Z"/>
<path fill="#5a5a5a" d="M419.7 759.4L426.2 759.6L432.7 759.8L439.3 760.1L445.8 760.5L452.3 760.9L458.8 761.4L465.3 762.0L471.9 762.6L478.4 763.3L484.9 764.0L491.4 764.8L497.9 765.7L504.5 766.5L511.0 767.5L517.5 768.5L524.0 769.5L530.6 770.5L537.1 771.6L543.6 772.8L550.1 773.9L556.6 775.1L563.2 776.3L569.7 777.6L576.2 778.8L582.7 780.1L589.2 781.4L595.8 782.8L602.3 784.1L608.8 785.5L615.3 786.8L621.8 788.2L628.4 789.6L634.9 790.9L641.4 792.3L647.9 793.7L654.4 795.1L661.0 796.4L667.5 797.8L674.0 799.1L672.7 802.6L666.2 801.3L659.7 799.9L653.2 798.6L646.7 797.3L640.2 795.9L633.8 794.6L627.3 793.2L620.8 791.8L614.3 790.5L607.8 789.1L601.3 787.8L594.8 786.4L588.3 785.1L581.9 783.8L575.4 782.5L568.9 781.2L562.4 779.9L555.9 778.7L549.4 777.5L542.9 776.3L536.5 775.1L530.0 774.0L523.5 772.9L517.0 771.9L510.5 770.9L504.0 769.9L497.5 769.0L491.1 768.2L484.6 767.4L478.1 766.6L471.6 765.9L465.1 765.3L458.6 764.7L452.1 764.2L445.6 763.8L439.2 763.4L432.7 763.1L426.2 762.9L419.7 762.8Z"/>
<path fill="#8e8e8e" d="M419.7 762.8L426.2 762.9L432.7 763.1L439.2 763.4L445.6 763.8L452.1 764.2L458.6 764.7L465.1 765.3L471.6 765.9L478.1 766.6L484.6 767.4L491.1 768.2L497.5 769.0L504.0 769.9L510.5 770.9L517.0 771.9L523.5 772.9L530.0 774.0L536.5 775.1L542.9 776.3L549.4 777.5L555.9 778.7L562.4 779.9L568.9 781.2L575.4 782.5L581.9 783.8L588.3 785.1L594.8 786.4L601.3 787.8L607.8 789.1L614.3 790.5L620.8 791.8L627.3 793.2L633.8 794.6L640.2 795.9L646.7 797.3L653.2 798.6L659.7 799.9L666.2 801.3L672.7 802.6L672.0 804.3L665.5 803.0L659.1 801.7L652.6 800.4L646.1 799.0L639.7 797.7L633.2 796.4L626.7 795.0L620.2 793.6L613.8 792.3L607.3 790.9L600.8 789.6L594.4 788.2L587.9 786.9L581.4 785.6L575.0 784.3L568.5 783.0L562.0 781.7L555.6 780.4L549.1 779.2L542.6 778.0L536.1 776.9L529.7 775.7L523.2 774.7L516.7 773.6L510.3 772.6L503.8 771.6L497.3 770.7L490.9 769.9L484.4 769.0L477.9 768.3L471.5 767.6L465.0 766.9L458.5 766.4L452.0 765.9L445.6 765.4L439.1 765.1L432.6 764.8L426.2 764.6L419.7 764.4Z"/>
<ellipse cx="552.9" cy="767.6" rx="1.1" ry="0.8" fill="#f4f4f4" stroke="#8a8a8a" stroke-width="0.4"/>
<ellipse cx="592.7" cy="775.3" rx="1.1" ry="0.8" fill="#f4f4f4" stroke="#8a8a8a" stroke-width="0.4"/>
<ellipse cx="652.4" cy="788.4" rx="1.1" ry="0.8" fill="#f4f4f4" stroke="#8a8a8a" stroke-width="0.4"/>
<ellipse cx="668.7" cy="792.1" rx="1.1" ry="0.8" fill="#f4f4f4" stroke="#8a8a8a" stroke-width="0.4"/>
<path fill="#4f4f4f" d="M678.7 788.7L679.8 790.8L678.6 794L673.5 796.6L672 803.3L669 802.6L671 795.5L676.5 790Z"/>
</g>
<g id="n11" filter="url(#b1)"><path fill="#4e4e4e" d="M549.80 792.00L555.60 792.00L554.20 795.40L551.20 795.40Z"/><ellipse cx="552.7" cy="791.50" rx="3.4" ry="2.3" fill="#c0c0c0" stroke="#8a8a8a" stroke-width="0.6"/><ellipse cx="552.7" cy="791.40" rx="1.5" ry="1.05" fill="#383838"/><path fill="#4e4e4e" d="M589.40 799.30L595.20 799.30L593.80 802.70L590.80 802.70Z"/><ellipse cx="592.3" cy="798.80" rx="3.4" ry="2.3" fill="#c0c0c0" stroke="#8a8a8a" stroke-width="0.6"/><ellipse cx="592.3" cy="798.70" rx="1.5" ry="1.05" fill="#383838"/><path fill="#4e4e4e" d="M648.40 810.30L654.20 810.30L652.80 813.70L649.80 813.70Z"/><ellipse cx="651.3" cy="809.80" rx="3.4" ry="2.3" fill="#c0c0c0" stroke="#8a8a8a" stroke-width="0.6"/><ellipse cx="651.3" cy="809.70" rx="1.5" ry="1.05" fill="#383838"/><path fill="#4e4e4e" d="M664.20 812.90L670.00 812.90L668.60 816.30L665.60 816.30Z"/><ellipse cx="667.1" cy="812.40" rx="3.4" ry="2.3" fill="#c0c0c0" stroke="#8a8a8a" stroke-width="0.6"/><ellipse cx="667.1" cy="812.30" rx="1.5" ry="1.05" fill="#383838"/></g>
<!-- bolt 10 --><g filter="url(#b1)"><path fill="#484848" d="M415.5 782.2V775.2Q416.8 773 418.1 775.2V782.2Z"/><path stroke="#7c7c7c" stroke-width="0.7" d="M417.6 776V781.2"/><rect x="414.0" y="782.2" width="5.6" height="3" rx="1.2" fill="#555"/><ellipse cx="416.8" cy="782.4000000000001" rx="3.0999999999999996" ry="1.4" fill="#cfcfcf" stroke="#777" stroke-width="0.5"/><ellipse cx="416.8" cy="782.0" rx="1.5" ry="0.8" fill="#4a4a4a"/></g>
<g id="p16" transform="translate(730,690) scale(0.16667)" filter="url(#b6)">
<defs><linearGradient id="g16" gradientUnits="userSpaceOnUse" x1="430" y1="290" x2="460" y2="340"><stop offset="0" stop-color="#8a8a8a"/><stop offset="0.35" stop-color="#b4b4b4"/><stop offset="0.7" stop-color="#8c8c8c"/><stop offset="1" stop-color="#6a6a6a"/></linearGradient></defs>
<!-- stud -->
<path fill="none" stroke="#6a6a6a" stroke-width="14" stroke-linecap="round" d="M144 390L198 420"/>
<!-- rod -->
<path fill="url(#g16)" d="M248 408L400 305L620 182L650 215L420 350L268 444Z"/>
<path fill="none" stroke="#b9b9b9" stroke-width="6" d="M256 412L404 314L628 192"/>
<path fill="none" stroke="#6e6e6e" stroke-width="6" d="M270 440L424 346L648 214"/>
<!-- upper bushing -->
<ellipse cx="655" cy="186" rx="45" ry="46" fill="#8f8f8f"/>
<ellipse cx="672" cy="194" rx="38" ry="46" fill="#7d7d7d" stroke="#6a6a6a" stroke-width="4" transform="rotate(12 672 194)"/>
<ellipse cx="678" cy="198" rx="22" ry="30" fill="#8c8c8c" transform="rotate(12 678 198)"/>
<ellipse cx="682" cy="200" rx="10" ry="14" fill="#666" transform="rotate(12 682 200)"/>
<path fill="#a0a0a0" d="M618 165C630 145 660 138 685 148L640 178Z" opacity="0.8"/>
<!-- lower ball joint -->
<ellipse cx="228" cy="436" rx="42" ry="38" fill="#777"/>
<ellipse cx="222" cy="424" rx="32" ry="24" fill="#959595"/>
<path fill="#606060" d="M190 448C200 475 250 480 268 450C250 465 210 465 190 448Z"/>
</g>
<!-- green nut 18 -->
<g filter="url(#b1)"><path fill="#2ca52c" d="M798.9 694.4C799.6 692.6 805.2 692.5 805.8 694.4C805.9 697.4 804.2 700 802.6 700.2C800.7 700 798.9 697.2 798.9 694.4Z"/><ellipse cx="802" cy="695.2" rx="1.6" ry="1.2" fill="#62c662"/></g>
<!-- green washer 17 -->
<g filter="url(#b1)"><ellipse cx="817.6" cy="706.4" rx="4.1" ry="5.8" fill="#2aa72a" transform="rotate(28 817.6 706.4)"/><ellipse cx="816.8" cy="707" rx="1.1" ry="1.7" fill="#e8f6e8" transform="rotate(28 816.8 707)"/></g>
<!-- green bolt 15 -->
<g filter="url(#b1)"><path stroke="#2aa82a" stroke-width="2.6" stroke-linecap="round" d="M859.8 733.4L875 742"/><ellipse cx="878.6" cy="743.6" rx="4.6" ry="5.4" fill="#2aa72a" transform="rotate(15 878.6 743.6)"/><ellipse cx="879.6" cy="744" rx="2.2" ry="2.8" fill="#5cc45c" transform="rotate(15 879.6 744)"/><ellipse cx="879.8" cy="744.2" rx="1" ry="1.3" fill="#2a8f2a"/></g>
<!-- END16 -->
<!-- PARTS2 -->
<!-- LEADERS -->
<g id="leaders">
<line class="ld" x1="689.5" y1="221.75" x2="729.5" y2="221.75"/>
<line class="ld" x1="515" y1="243.2" x2="515" y2="275"/>
<line class="ld" x1="303" y1="274.2" x2="303" y2="307.5"/>
<line class="ld" x1="303.2" y1="328" x2="324.5" y2="328"/>
<line class="ld" x1="434.5" y1="338.2" x2="434.5" y2="371.8"/>
<line class="ld" x1="356.8" y1="365" x2="356.8" y2="398.2"/>
<line class="ld" x1="738.4" y1="346.2" x2="738.4" y2="377.5"/>
<line class="ld" x1="875.75" y1="312.5" x2="875.75" y2="333.2"/>
<line class="ld" x1="693.5" y1="411" x2="693.5" y2="432"/>
<line class="ld" x1="412.5" y1="416.2" x2="412.5" y2="430.5"/>
<line class="ld" x1="282.5" y1="398" x2="282.5" y2="418.8"/>
<line class="ld" x1="523.75" y1="471.4" x2="563.75" y2="471.4"/>
<line class="ld" x1="473.25" y1="472.5" x2="473.25" y2="536.2"/>
<line class="ld" x1="459.5" y1="493.8" x2="459.5" y2="528"/>
<line class="ld" x1="369.5" y1="497" x2="391.2" y2="497"/>
<line class="ld" x1="792.5" y1="528.25" x2="832.5" y2="528.25"/>
<line class="ld" x1="403.75" y1="555.25" x2="426.2" y2="555.25"/>
<line class="ld" x1="562.5" y1="560" x2="585" y2="560"/>
<line class="ld" x1="519" y1="582" x2="519" y2="602.5"/>
<line class="ld" x1="560" y1="614" x2="581.75" y2="614"/>
<line class="ld" x1="427.5" y1="607" x2="427.5" y2="628"/>
<line class="ld" x1="604.6" y1="649.2" x2="604.6" y2="670"/>
<line class="ld" x1="500.5" y1="672.25" x2="522.5" y2="672.25"/>
<line class="ld" x1="670.5" y1="689" x2="710" y2="689"/>
<line class="ld" x1="446" y1="712.5" x2="446" y2="744.5"/>
<line class="ld" x1="599.25" y1="744.25" x2="621.25" y2="744.25"/>
<line class="ld" x1="817.8" y1="634.2" x2="817.8" y2="698"/>
<line class="ld" x1="801.5" y1="656.2" x2="801.5" y2="690"/>
<line class="ld" x1="876.7" y1="752.2" x2="876.7" y2="772.8"/>
<line class="ld" x1="797.5" y1="753.7" x2="797.5" y2="789.5"/>
<line class="ld" x1="416.75" y1="788" x2="416.75" y2="819.5"/>
<path class="ld" d="M795.75 423.75V442H816.75V423.75M807.5 442V460.75"/>
<path class="ld" d="M548.5 818V837H672.25V818M615.5 837V855.5"/>
<path class="ld" stroke-dasharray="5 1.5 1 1.5" d="M535 672L554.5 670.5V662.5"/>
<path class="ld" stroke-dasharray="5 1.5 1 1.5" d="M572 650.75L588.75 663.75"/>
</g>
<!-- LABELS -->
<g id="labels" opacity="0.99">
<path fill="#111" transform="translate(731.80,225.5) scale(0.0078125,-0.00742)" d="M763 0H583V1147Q518 1085 412.5 1023Q307 961 223 930V1104Q374 1175 487 1276Q600 1377 647 1472H763Z"/>
<text class="lb2" transform="translate(509.75,238.0) scale(1,0.95)">2</text>
<text class="lb2" transform="translate(294.10,269.3) scale(1,0.95)">2</text>
<text class="lb2" transform="translate(303.00,269.3) scale(1,0.95)">6</text>
<text class="lb2" transform="translate(327.60,332.0) scale(1,0.95)">2</text>
<text class="lb2" transform="translate(336.50,332.0) scale(1,0.95)">7</text>
<text class="lb2" transform="translate(425.60,333.0) scale(1,0.95)">2</text>
<text class="lb2" transform="translate(434.50,333.0) scale(1,0.95)">9</text>
<text class="lb2" transform="translate(348.10,360.0) scale(1,0.95)">2</text>
<text class="lb2" transform="translate(357.00,360.0) scale(1,0.95)">5</text>
<path fill="#111" transform="translate(729.85,340.75) scale(0.0078125,-0.00742)" d="M763 0H583V1147Q518 1085 412.5 1023Q307 961 223 930V1104Q374 1175 487 1276Q600 1377 647 1472H763Z"/>
<text class="lb2" transform="translate(738.75,340.75) scale(1,0.95)">2</text>
<path fill="#111" transform="translate(867.35,348.25) scale(0.0078125,-0.00742)" d="M763 0H583V1147Q518 1085 412.5 1023Q307 961 223 930V1104Q374 1175 487 1276Q600 1377 647 1472H763Z"/>
<text class="lb2" transform="translate(876.25,348.25) scale(1,0.95)">3</text>
<path fill="#111" transform="translate(684.85,446.6) scale(0.0078125,-0.00742)" d="M763 0H583V1147Q518 1085 412.5 1023Q307 961 223 930V1104Q374 1175 487 1276Q600 1377 647 1472H763Z"/>
<text class="lb2" transform="translate(693.75,446.6) scale(1,0.95)">3</text>
<path fill="#111" transform="translate(799.10,476.25) scale(0.0078125,-0.00742)" d="M763 0H583V1147Q518 1085 412.5 1023Q307 961 223 930V1104Q374 1175 487 1276Q600 1377 647 1472H763Z"/>
<text class="lb2" transform="translate(808.00,476.25) scale(1,0.95)">4</text>
<text class="lb2" transform="translate(404.10,410.75) scale(1,0.95)">2</text>
<text class="lb2" transform="translate(413.00,410.75) scale(1,0.95)">3</text>
<text class="lb2" transform="translate(273.10,434.25) scale(1,0.95)">2</text>
<text class="lb2" transform="translate(282.00,434.25) scale(1,0.95)">8</text>
<path fill="#111" transform="translate(566.35,475.0) scale(0.0078125,-0.00742)" d="M763 0H583V1147Q518 1085 412.5 1023Q307 961 223 930V1104Q374 1175 487 1276Q600 1377 647 1472H763Z"/>
<text class="lb2" transform="translate(575.25,475.0) scale(1,0.95)">9</text>
<path fill="#111" transform="translate(465.35,467.0) scale(0.0078125,-0.00742)" d="M763 0H583V1147Q518 1085 412.5 1023Q307 961 223 930V1104Q374 1175 487 1276Q600 1377 647 1472H763Z"/>
<text class="lb2" transform="translate(474.25,467.0) scale(1,0.95)">7</text>
<path fill="#111" transform="translate(451.60,488.75) scale(0.0078125,-0.00742)" d="M763 0H583V1147Q518 1085 412.5 1023Q307 961 223 930V1104Q374 1175 487 1276Q600 1377 647 1472H763Z"/>
<text class="lb2" transform="translate(460.50,488.75) scale(1,0.95)">8</text>
<text class="lb2" transform="translate(348.35,501.75) scale(1,0.95)">2</text>
<text class="lb2" transform="translate(357.25,501.75) scale(1,0.95)">4</text>
<text class="lb2" transform="translate(834.80,531.25) scale(1,0.95)">8</text>
<text class="lb2" transform="translate(383.10,560.0) scale(1,0.95)">2</text>
<text class="lb2" transform="translate(392.00,560.0) scale(1,0.95)">2</text>
<text class="lb2" transform="translate(550.80,565.0) scale(1,0.95)">7</text>
<text class="lb2" transform="translate(509.85,618.0) scale(1,0.95)">2</text>
<text class="lb2" transform="translate(518.75,618.0) scale(1,0.95)">0</text>
<text class="lb2" transform="translate(584.80,618.25) scale(1,0.95)">3</text>
<text class="lb2" transform="translate(417.10,643.5) scale(1,0.95)">2</text>
<path fill="#111" transform="translate(426.00,643.5) scale(0.0078125,-0.00742)" d="M763 0H583V1147Q518 1085 412.5 1023Q307 961 223 930V1104Q374 1175 487 1276Q600 1377 647 1472H763Z"/>
<text class="lb2" transform="translate(595.85,643.75) scale(1,0.95)">3</text>
<text class="lb2" transform="translate(604.75,643.75) scale(1,0.95)">0</text>
<text class="lb2" transform="translate(489.05,676.75) scale(1,0.95)">4</text>
<text class="lb2" transform="translate(713.05,692.5) scale(1,0.95)">5</text>
<text class="lb2" transform="translate(440.80,707.5) scale(1,0.95)">9</text>
<text class="lb2" transform="translate(588.05,748.5) scale(1,0.95)">6</text>
<path fill="#111" transform="translate(809.40,629.5) scale(0.0078125,-0.00742)" d="M763 0H583V1147Q518 1085 412.5 1023Q307 961 223 930V1104Q374 1175 487 1276Q600 1377 647 1472H763Z"/>
<text class="lb2" transform="translate(818.30,629.5) scale(1,0.95)">7</text>
<path fill="#111" transform="translate(793.70,650.8) scale(0.0078125,-0.00742)" d="M763 0H583V1147Q518 1085 412.5 1023Q307 961 223 930V1104Q374 1175 487 1276Q600 1377 647 1472H763Z"/>
<text class="lb2" transform="translate(802.60,650.8) scale(1,0.95)">8</text>
<path fill="#111" transform="translate(868.10,788.3) scale(0.0078125,-0.00742)" d="M763 0H583V1147Q518 1085 412.5 1023Q307 961 223 930V1104Q374 1175 487 1276Q600 1377 647 1472H763Z"/>
<text class="lb2" transform="translate(877.00,788.3) scale(1,0.95)">5</text>
<path fill="#111" transform="translate(788.80,804.7) scale(0.0078125,-0.00742)" d="M763 0H583V1147Q518 1085 412.5 1023Q307 961 223 930V1104Q374 1175 487 1276Q600 1377 647 1472H763Z"/>
<text class="lb2" transform="translate(797.70,804.7) scale(1,0.95)">6</text>
<path fill="#111" transform="translate(407.85,835.0) scale(0.0078125,-0.00742)" d="M763 0H583V1147Q518 1085 412.5 1023Q307 961 223 930V1104Q374 1175 487 1276Q600 1377 647 1472H763Z"/>
<text class="lb2" transform="translate(416.75,835.0) scale(1,0.95)">0</text>
<path fill="#111" transform="translate(606.60,870.5) scale(0.0078125,-0.00742)" d="M763 0H583V1147Q518 1085 412.5 1023Q307 961 223 930V1104Q374 1175 487 1276Q600 1377 647 1472H763Z"/>
<path fill="#111" transform="translate(615.50,870.5) scale(0.0078125,-0.00742)" d="M763 0H583V1147Q518 1085 412.5 1023Q307 961 223 930V1104Q374 1175 487 1276Q600 1377 647 1472H763Z"/>
</g>
</svg>
</body></html>
